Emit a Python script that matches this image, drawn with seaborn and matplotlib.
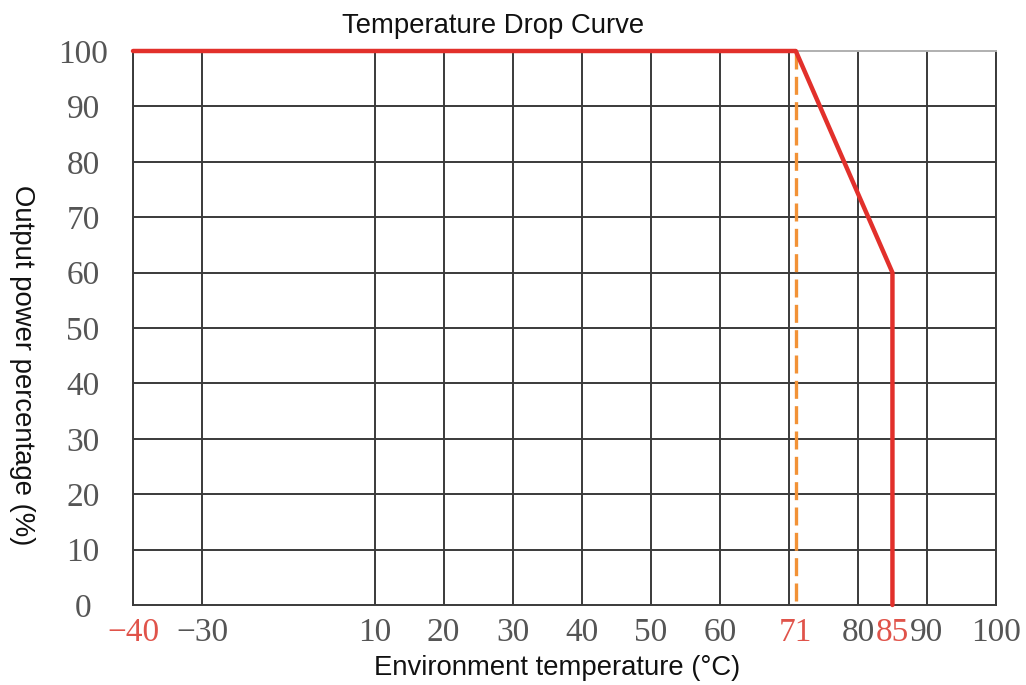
import numpy as np
import pandas as pd
import matplotlib
matplotlib.use("Agg")
import matplotlib.pyplot as plt
import seaborn as sns

# derating curve
curve_temp = [-40, 71, 85, 85]
curve_power = [100, 100, 60, 0]
full_load_limit = 71

grid_temp = [-40, -30, 10, 20, 30, 40, 50, 60, 70, 80, 90, 100]
label_temp = [-40, -30, 10, 20, 30, 40, 50, 60, 71, 80, 85, 90, 100]
red_labels = [-40, 71, 85]
power_ticks = [0, 10, 20, 30, 40, 50, 60, 70, 80, 90, 100]

# the temperature axis skips the -30..10 stretch (drawn shorter)
brk_in = np.array([-30.0, 10.0])
brk_out = np.array([-30.0, -5.0])


def fwd(t):
    t = np.asarray(t, dtype=float)
    k = (brk_out[1] - brk_out[0]) / (brk_in[1] - brk_in[0])
    return np.where(t < brk_in[0], t,
                    np.where(t > brk_in[1], t - (brk_in[1] - brk_out[1]),
                             brk_out[0] + (t - brk_in[0]) * k))


def inv(p):
    p = np.asarray(p, dtype=float)
    k = (brk_in[1] - brk_in[0]) / (brk_out[1] - brk_out[0])
    return np.where(p < brk_out[0], p,
                    np.where(p > brk_out[1], p + (brk_in[1] - brk_out[1]),
                             brk_in[0] + (p - brk_out[0]) * k))


sns.set_style("white")
plt.rcParams["font.family"] = ["Liberation Sans", "DejaVu Sans"]

fig = plt.figure(figsize=(10.26, 6.85), dpi=100)
ax = fig.add_axes([133 / 1026, 80 / 685, 863 / 1026, 554 / 685])
ax.set_xscale("function", functions=(fwd, inv))
ax.set_xlim(-40, 100)
ax.set_ylim(0, 100)

df_curve = pd.DataFrame({"temp": curve_temp, "power": curve_power})
df_limit = pd.DataFrame({"temp": [full_load_limit, full_load_limit], "power": [100, 0]})
sns.lineplot(data=df_limit, x="temp", y="power", sort=False, estimator=None, ax=ax,
             color="#f29236", linewidth=2.4, zorder=4)
ax.lines[-1].set_dashes([5.4, 2.2])
sns.lineplot(data=df_curve, x="temp", y="power", sort=False, estimator=None, ax=ax,
             color="#e2302b", linewidth=3.2, zorder=5)
for ln in ax.lines:
    ln.set_clip_on(False)

# tick labels (major) and grid (minor)
ax.set_xticks(label_temp)
ax.set_xticklabels([str(t).replace("-", "\u2212") for t in label_temp])
ax.set_yticks(power_ticks)
ax.set_yticklabels([str(p) for p in power_ticks])
ax.xaxis.remove_overlapping_locs = False
ax.yaxis.remove_overlapping_locs = False
ax.set_xticks(grid_temp, minor=True)
ax.set_yticks(power_ticks[1:-1], minor=True)
ax.grid(which="major", visible=False)
ax.grid(which="minor", color="#3a3a3a", linewidth=1.4)
for side in ["left", "right", "bottom"]:
    ax.spines[side].set_color("#3a3a3a")
    ax.spines[side].set_linewidth(1.4)
ax.spines["top"].set_color("#b0b0b0")
ax.spines["top"].set_linewidth(1.4)

ax.tick_params(axis="both", which="both", length=0)
ax.tick_params(axis="x", pad=9)
ax.tick_params(axis="y", pad=36)
for lab, t in zip(ax.get_xticklabels(), label_temp):
    lab.set_fontfamily(["Liberation Serif", "DejaVu Serif"])
    lab.set_fontsize(24)
    lab.set_color("#e0534a" if t in red_labels else "#555555")
for lab in ax.get_yticklabels():
    lab.set_fontfamily(["Liberation Serif", "DejaVu Serif"])
    lab.set_fontsize(24)
    lab.set_color("#555555")
    lab.set_horizontalalignment("center")

ax.set_xlabel("")
ax.set_ylabel("")
fig.text(493 / 1026, 1 - 26 / 685, "Temperature Drop Curve", ha="center", va="center",
         fontsize=19.8, color="#111111")
fig.text(557 / 1026, 1 - 668 / 685, "Environment temperature (°C)", ha="center", va="center",
         fontsize=19.8, color="#111111")
fig.text(22 / 1026, 1 - 365 / 685, "Output power percentage (%)", ha="center", va="center",
         rotation=-90, fontsize=19.8, color="#111111")

fig.savefig("out.png", dpi=100)
